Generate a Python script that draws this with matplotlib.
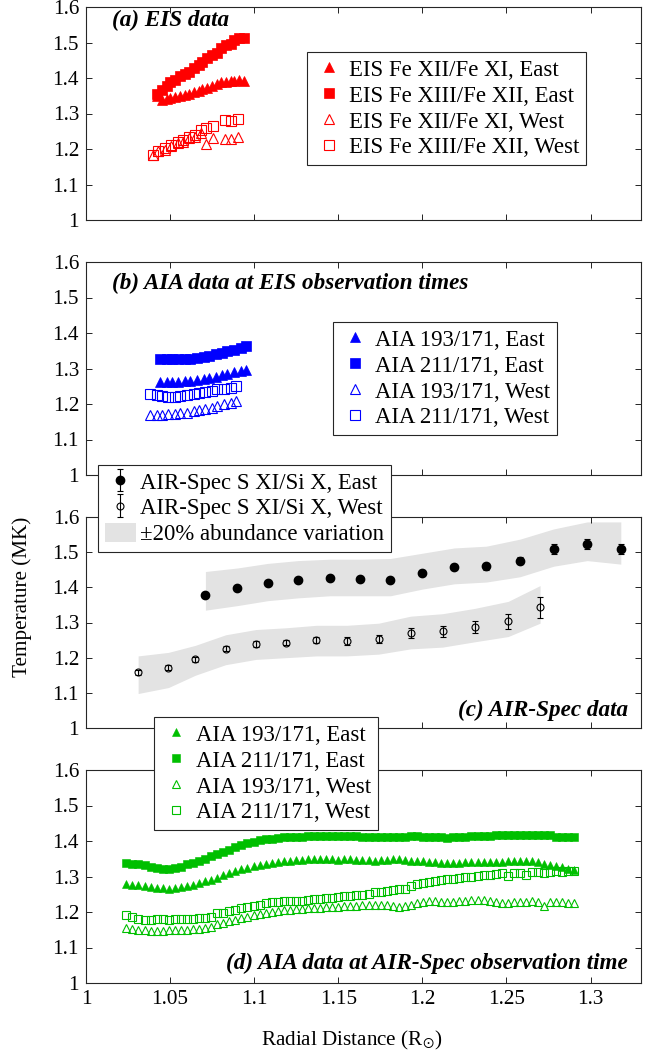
import numpy as np
import matplotlib
matplotlib.use("Agg")
import matplotlib.pyplot as plt
from matplotlib.patches import Patch

plt.rcParams['font.family'] = ['Liberation Serif', 'DejaVu Serif']
plt.rcParams['mathtext.fontset'] = 'stix'

RED = '#ff0000'
BLUE = '#0000ff'
GREEN = '#00bf00'
BAND = '#e3e3e3'

# ---------------- (a) EIS line-ratio temperatures ----------------
eis_x_east = [1.042, 1.045, 1.048, 1.050, 1.053, 1.056, 1.059, 1.061, 1.064, 1.067,
              1.069, 1.072, 1.075, 1.078, 1.080, 1.083, 1.086, 1.088, 1.091, 1.094]
eis_fe12_11_east = [1.350, 1.338, 1.340, 1.343, 1.347, 1.350, 1.353, 1.356, 1.360, 1.364,
                    1.368, 1.372, 1.377, 1.382, 1.388, 1.388, 1.391, 1.392, 1.393, 1.392]
eis_fe13_12_east = [1.355, 1.366, 1.378, 1.388, 1.395, 1.405, 1.410, 1.418, 1.428, 1.436,
                    1.446, 1.455, 1.465, 1.470, 1.485, 1.493, 1.495, 1.508, 1.513, 1.513]
eis_x_west = [1.0399, 1.0428, 1.0468, 1.0508, 1.0547, 1.0577, 1.0612, 1.0646, 1.0685,
              1.0715, 1.0754, 1.0824, 1.0863, 1.0902]
eis_fe12_11_west = [1.183, 1.193, 1.197, 1.208, 1.216, 1.221, 1.230, 1.235, 1.244,
                    1.214, 1.230, 1.227, 1.227, 1.235]
eis_fe13_12_west = [1.183, 1.193, 1.202, 1.211, 1.221, 1.224, 1.235, 1.240, 1.254,
                    1.258, 1.265, 1.282, 1.280, 1.285]

# ---------------- (b) AIA at EIS observation times ----------------
aia_eis_x_east = [1.044, 1.048, 1.051, 1.055, 1.059, 1.062, 1.066, 1.070, 1.073, 1.077,
                  1.081, 1.084, 1.088, 1.092, 1.095]
aia_eis_193_east = [1.262, 1.262, 1.262, 1.263, 1.264, 1.265, 1.267, 1.270, 1.273, 1.277,
                    1.281, 1.285, 1.289, 1.293, 1.297]
aia_eis_211_east = [1.328, 1.328, 1.327, 1.326, 1.327, 1.328, 1.330, 1.333, 1.336, 1.340,
                    1.343, 1.348, 1.352, 1.357, 1.362]
aia_eis_x_west = [1.038, 1.042, 1.045, 1.049, 1.053, 1.056, 1.060, 1.064, 1.067, 1.071,
                  1.075, 1.078, 1.082, 1.086, 1.089]
aia_eis_193_west = [1.169, 1.170, 1.170, 1.171, 1.172, 1.174, 1.176, 1.179, 1.182, 1.186,
                    1.190, 1.194, 1.199, 1.204, 1.209]
aia_eis_211_west = [1.228, 1.224, 1.222, 1.221, 1.220, 1.222, 1.226, 1.228, 1.232, 1.234,
                    1.238, 1.241, 1.243, 1.246, 1.250]

# ---------------- (c) AIR-Spec S XI / Si X ----------------
air_x_east = [1.071, 1.090, 1.108, 1.126, 1.145, 1.163, 1.181, 1.200, 1.219, 1.238,
              1.258, 1.278, 1.298, 1.318]
air_t_east = [1.378, 1.398, 1.413, 1.420, 1.427, 1.423, 1.422, 1.442, 1.458, 1.460,
              1.476, 1.510, 1.523, 1.509]
air_err_east = [0.004, 0.004, 0.004, 0.004, 0.005, 0.005, 0.005, 0.006, 0.007, 0.010,
                0.011, 0.014, 0.015, 0.015]
air_band_hi_east = [1.445, 1.455, 1.468, 1.476, 1.480, 1.480, 1.482, 1.497, 1.512, 1.517,
                    1.537, 1.566, 1.586, 1.586]
air_band_lo_east = [1.335, 1.348, 1.362, 1.370, 1.376, 1.376, 1.376, 1.395, 1.410, 1.415,
                    1.430, 1.460, 1.476, 1.466]

air_x_west = [1.031, 1.049, 1.065, 1.083, 1.101, 1.119, 1.137, 1.155, 1.174, 1.193,
              1.212, 1.231, 1.251, 1.270]
air_t_west = [1.158, 1.172, 1.195, 1.225, 1.238, 1.243, 1.250, 1.248, 1.253, 1.270,
              1.275, 1.287, 1.303, 1.343]
air_err_west = [0.006, 0.006, 0.007, 0.007, 0.008, 0.008, 0.009, 0.011, 0.012, 0.014,
                0.015, 0.017, 0.022, 0.030]
air_band_hi_west = [1.205, 1.215, 1.235, 1.265, 1.280, 1.285, 1.292, 1.292, 1.298, 1.318,
                    1.325, 1.340, 1.360, 1.405]
air_band_lo_west = [1.098, 1.115, 1.150, 1.180, 1.195, 1.200, 1.205, 1.205, 1.210, 1.225,
                    1.230, 1.245, 1.260, 1.298]

# ---------------- (d) AIA at AIR-Spec observation time ----------------
aia_x = [1.0240, 1.0276, 1.0312, 1.0348, 1.0384, 1.0420, 1.0456, 1.0492, 1.0528, 1.0564,
         1.0600, 1.0636, 1.0672, 1.0708, 1.0744, 1.0780, 1.0816, 1.0852, 1.0888, 1.0924,
         1.0960, 1.0996, 1.1032, 1.1068, 1.1104, 1.1140, 1.1176, 1.1212, 1.1248, 1.1284,
         1.1320, 1.1356, 1.1392, 1.1428, 1.1464, 1.1500, 1.1536, 1.1572, 1.1608, 1.1644,
         1.1680, 1.1716, 1.1752, 1.1788, 1.1824, 1.1860, 1.1896, 1.1932, 1.1968, 1.2004,
         1.2040, 1.2076, 1.2112, 1.2148, 1.2184, 1.2220, 1.2256, 1.2292, 1.2328, 1.2364,
         1.2400, 1.2436, 1.2472, 1.2508, 1.2544, 1.2580, 1.2616, 1.2652, 1.2688, 1.2724,
         1.2760, 1.2796, 1.2832, 1.2868, 1.2904]
aia_211_east = [1.337, 1.336, 1.334, 1.332, 1.328, 1.324, 1.321, 1.321, 1.324, 1.328,
                1.334, 1.338, 1.344, 1.350, 1.357, 1.364, 1.370, 1.376, 1.383, 1.389,
                1.394, 1.398, 1.402, 1.405, 1.407, 1.409, 1.410, 1.410, 1.411, 1.412,
                1.413, 1.413, 1.414, 1.414, 1.415, 1.415, 1.414, 1.413, 1.413, 1.412,
                1.412, 1.412, 1.411, 1.412, 1.412, 1.411, 1.412, 1.413, 1.413, 1.412,
                1.411, 1.411, 1.410, 1.409, 1.410, 1.411, 1.412, 1.413, 1.414, 1.414,
                1.415, 1.416, 1.416, 1.417, 1.417, 1.418, 1.418, 1.417, 1.417, 1.418,
                1.416, 1.412, 1.410, 1.411, 1.410]
aia_193_east = [1.279, 1.277, 1.275, 1.273, 1.270, 1.268, 1.267, 1.266, 1.267, 1.270,
                1.273, 1.277, 1.281, 1.286, 1.291, 1.297, 1.303, 1.309, 1.315, 1.320,
                1.325, 1.329, 1.333, 1.336, 1.339, 1.341, 1.343, 1.345, 1.346, 1.347,
                1.348, 1.348, 1.348, 1.348, 1.348, 1.347, 1.348, 1.348, 1.347, 1.346,
                1.346, 1.345, 1.346, 1.347, 1.348, 1.350, 1.347, 1.345, 1.345, 1.344,
                1.342, 1.340, 1.338, 1.337, 1.337, 1.338, 1.340, 1.341, 1.342, 1.342,
                1.342, 1.341, 1.342, 1.343, 1.344, 1.345, 1.344, 1.343, 1.340, 1.336,
                1.333, 1.330, 1.326, 1.322, 1.318]
aia_211_west = [1.192, 1.186, 1.180, 1.178, 1.178, 1.179, 1.179, 1.178, 1.179, 1.180,
                1.180, 1.181, 1.183, 1.184, 1.186, 1.196, 1.198, 1.203, 1.206, 1.210,
                1.214, 1.217, 1.220, 1.226, 1.228, 1.229, 1.230, 1.230, 1.231, 1.232,
                1.233, 1.236, 1.238, 1.239, 1.240, 1.242, 1.244, 1.246, 1.248, 1.249,
                1.252, 1.255, 1.257, 1.260, 1.262, 1.264, 1.266, 1.272, 1.279, 1.282,
                1.284, 1.287, 1.290, 1.292, 1.294, 1.296, 1.298, 1.299, 1.301, 1.303,
                1.305, 1.307, 1.309, 1.301, 1.309, 1.311, 1.304, 1.314, 1.312, 1.311,
                1.314, 1.315, 1.314, 1.315, 1.316]
aia_193_west = [1.154, 1.152, 1.150, 1.148, 1.147, 1.147, 1.147, 1.148, 1.148, 1.149,
                1.150, 1.151, 1.152, 1.155, 1.158, 1.167, 1.170, 1.174, 1.178, 1.182,
                1.187, 1.191, 1.195, 1.198, 1.200, 1.203, 1.205, 1.207, 1.208, 1.209,
                1.210, 1.211, 1.212, 1.213, 1.214, 1.215, 1.216, 1.217, 1.218, 1.220,
                1.221, 1.221, 1.220, 1.219, 1.217, 1.215, 1.216, 1.220, 1.224, 1.229,
                1.231, 1.230, 1.229, 1.228, 1.229, 1.231, 1.232, 1.233, 1.234, 1.233,
                1.230, 1.228, 1.226, 1.226, 1.227, 1.228, 1.229, 1.230, 1.229, 1.218,
                1.228, 1.229, 1.227, 1.226, 1.226]

y_ticks = [1.0, 1.1, 1.2, 1.3, 1.4, 1.5, 1.6]
y_tick_labels = ['1', '1.1', '1.2', '1.3', '1.4', '1.5', '1.6']
x_ticks = [1.0, 1.05, 1.1, 1.15, 1.2, 1.25, 1.3]
x_tick_labels = ['1', '1.05', '1.1', '1.15', '1.2', '1.25', '1.3']

TICK_FS = 15.2
LEG_FS = 16.4
TITLE_FS = 16.7
W, H = 657, 1059
fig = plt.figure(figsize=(W / 100, H / 100), dpi=100)


def px_axes(left, top, right, bottom):
    return fig.add_axes([left / W, 1 - bottom / H, (right - left) / W, (bottom - top) / H])


L, R = 86, 641
ax_a = px_axes(L, 7, R, 220)
ax_b = px_axes(L, 262, R, 475)
ax_c = px_axes(L, 517, R, 728)
ax_d = px_axes(L, 770, R, 983)

for ax in (ax_a, ax_b, ax_c, ax_d):
    ax.set_xlim(1.0, 1.33)
    ax.set_ylim(1.0, 1.6)
    ax.set_yticks(y_ticks)
    ax.set_yticklabels(y_tick_labels)
    ax.set_xticks(x_ticks)
    ax.tick_params(direction='in', length=4, width=0.6, top=True, right=True,
                   labelsize=TICK_FS, pad=5, colors='black')
    for s in ax.spines.values():
        s.set_linewidth(0.8)
        s.set_color('#262626')
    ax.set_xticklabels([])
ax_d.set_xticklabels(x_tick_labels)

ms_a = 6.8
open_kw = dict(markerfacecolor='none', markeredgewidth=0.8, linestyle='none')
title_kw = dict(fontsize=TITLE_FS, fontweight='bold', fontstyle='italic', va='center')

# (a)
ax_a.plot(eis_x_east, eis_fe12_11_east, '^', color=RED, ms=ms_a, mew=0.5,
          linestyle='none', label='EIS Fe XII/Fe XI, East')
ax_a.plot(eis_x_east, eis_fe13_12_east, 's', color=RED, ms=ms_a, mew=0.5,
          linestyle='none', label='EIS Fe XIII/Fe XII, East')
ax_a.plot(eis_x_west, eis_fe12_11_west, '^', color=RED, ms=ms_a, label='EIS Fe XII/Fe XI, West', **open_kw)
ax_a.plot(eis_x_west, eis_fe13_12_west, 's', color=RED, ms=ms_a, label='EIS Fe XIII/Fe XII, West', **open_kw)
ax_a.text((112 - L) / (R - L), (220 - 20) / 213, '(a) EIS data', transform=ax_a.transAxes,
          ha='left', **title_kw)

# (b)
ax_b.plot(aia_eis_x_east, aia_eis_193_east, '^', color=BLUE, ms=ms_a, mew=0.5,
          linestyle='none', label='AIA 193/171, East')
ax_b.plot(aia_eis_x_east, aia_eis_211_east, 's', color=BLUE, ms=ms_a, mew=0.5,
          linestyle='none', label='AIA 211/171, East')
ax_b.plot(aia_eis_x_west, aia_eis_193_west, '^', color=BLUE, ms=ms_a, label='AIA 193/171, West', **open_kw)
ax_b.plot(aia_eis_x_west, aia_eis_211_west, 's', color=BLUE, ms=ms_a, label='AIA 211/171, West', **open_kw)
ax_b.text((112 - L) / (R - L), (475 - 283) / 213, '(b) AIA data at EIS observation times',
          transform=ax_b.transAxes, ha='left', **title_kw)

# (c)
ax_c.fill_between(air_x_east, air_band_lo_east, air_band_hi_east, color=BAND, lw=0, zorder=1)
ax_c.fill_between(air_x_west, air_band_lo_west, air_band_hi_west, color=BAND, lw=0, zorder=1)
eb_e = ax_c.errorbar(air_x_east, air_t_east, yerr=air_err_east, fmt='o', color='black',
                     ms=6, mfc='black', mec='black', elinewidth=0.8, capsize=2.5, capthick=0.8,
                     zorder=3, label='AIR-Spec S XI/Si X, East')
eb_w = ax_c.errorbar(air_x_west, air_t_west, yerr=air_err_west, fmt='o', color='black',
                     ms=5, mfc='none', mec='black', mew=0.8, elinewidth=0.8, capsize=2.5,
                     capthick=0.8, zorder=3, label='AIR-Spec S XI/Si X, West')
ax_c.text((628 - L) / (R - L), (728 - 710) / 211, '(c) AIR-Spec data', transform=ax_c.transAxes,
          ha='right', **title_kw)

# (d)
ms_d = 6.0
ax_d.plot(aia_x, aia_193_east, '^', color=GREEN, ms=ms_d, mew=0.4, linestyle='none',
          label='AIA 193/171, East')
ax_d.plot(aia_x, aia_211_east, 's', color=GREEN, ms=ms_d, mew=0.4, linestyle='none',
          label='AIA 211/171, East')
ax_d.plot(aia_x, aia_193_west, '^', color=GREEN, ms=ms_d, label='AIA 193/171, West', **open_kw)
ax_d.plot(aia_x, aia_211_west, 's', color=GREEN, ms=ms_d, label='AIA 211/171, West', **open_kw)
ax_d.text((628 - L) / (R - L), (983 - 963) / 213, '(d) AIA data at AIR-Spec observation time',
          transform=ax_d.transAxes, ha='right', **title_kw)

leg_kw = dict(fontsize=LEG_FS, frameon=True, fancybox=False, shadow=False,
              framealpha=1.0, edgecolor='#262626', handlelength=1.35, handletextpad=0.2,
              borderpad=0.3, labelspacing=0.15, borderaxespad=0.0, handleheight=0.9)


def add_legend(handles, labels, x, y, loc):
    leg = fig.legend(handles, labels, loc=loc, bbox_to_anchor=(x / W, 1 - y / H), **leg_kw)
    leg.get_frame().set_linewidth(0.8)
    leg.set_zorder(10)
    return leg


h, l = ax_a.get_legend_handles_labels()
add_legend(h, l, 307, 52, 'upper left')
h, l = ax_b.get_legend_handles_labels()
add_legend(h, l, 333, 322, 'upper left')
band_handle = Patch(facecolor=BAND, edgecolor='none')
add_legend([eb_e, eb_w, band_handle],
           ['AIR-Spec S XI/Si X, East', 'AIR-Spec S XI/Si X, West', '\u00b120% abundance variation'],
           98, 552, 'lower left')
h, l = ax_d.get_legend_handles_labels()
add_legend(h, l, 154, 717, 'upper left')

fig.text(22 / W, 1 - 597 / H, 'Temperature (MK)', rotation=90, fontsize=TICK_FS,
         ha='center', va='center')
fig.text(352 / W, 1 - 1040 / H, r'Radial Distance (R$_{\odot}$)', fontsize=TICK_FS,
         ha='center', va='center')

fig.savefig('out.png', dpi=100)
